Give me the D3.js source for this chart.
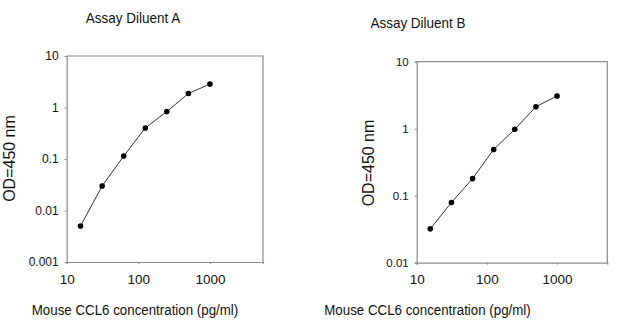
<!DOCTYPE html>
<html>
<head>
<meta charset="utf-8">
<script src="https://cdn.jsdelivr.net/npm/d3@7"></script>
<style>
  html, body { margin: 0; padding: 0; background: #fff; }
  svg { display: block; }
  text { font-family: "Liberation Sans", Arial, sans-serif; fill: #111; }
</style>
</head>
<body>
<svg id="chart" width="640" height="334"></svg>
<script>
// Standard curve concentrations (pg/ml)
const concentrations = [15.6, 31.25, 62.5, 125, 250, 500, 1000];
// OD at 450 nm for each diluent
const odDiluentA = [0.005, 0.030, 0.114, 0.40, 0.835, 1.87, 2.85];
const odDiluentB = [0.032, 0.079, 0.18, 0.49, 0.98, 2.13, 3.08];
// Axis tick labels
const xTicks = [10, 100, 1000];
const yTicksA = [0.001, 0.01, 0.1, 1, 10];
const yTicksB = [0.01, 0.1, 1, 10];
const titles = ["Assay Diluent A", "Assay Diluent B"];
const xLabel = "Mouse CCL6 concentration (pg/ml)";
const yLabel = "OD=450 nm";

const svg = d3.select("#chart");
const axisColor = "#8a8a8a";

function drawPanel(cfg) {
  const g = svg.append("g");
  const x = d3.scaleLog().domain([10, cfg.xMax]).range([cfg.left, cfg.right]);
  const y = d3.scaleLog().domain(cfg.yDomain).range([cfg.bottom, cfg.top]);

  // Frame: top and right borders
  g.append("path")
    .attr("d", `M${cfg.left},${cfg.top}H${cfg.right}V${cfg.bottom}`)
    .attr("fill", "none").attr("stroke", axisColor).attr("stroke-width", 1.2);

  const xAxis = g.append("g")
    .attr("transform", `translate(0,${cfg.bottom})`)
    .call(d3.axisBottom(x).tickValues(xTicks).tickFormat(String).tickSize(2).tickPadding(10));
  const yAxis = g.append("g")
    .attr("transform", `translate(${cfg.left},0)`)
    .call(d3.axisLeft(y).tickValues(cfg.yTicks).tickFormat(String).tickSize(2).tickPadding(6));

  [xAxis, yAxis].forEach(a => {
    a.select(".domain").attr("stroke", axisColor).attr("stroke-width", 1.2);
    a.selectAll(".tick line").attr("stroke", axisColor);
    a.selectAll(".tick text")
      .attr("font-family", "Liberation Sans, Arial, sans-serif")
      .attr("fill", "#111");
  });
  xAxis.selectAll(".tick text").attr("font-size", 13.5).attr("dy", "0.71em");
  yAxis.selectAll(".tick text").attr("font-size", cfg.yTickSize);

  const line = d3.line().x(d => x(d[0])).y(d => y(d[1]));
  const pts = concentrations.map((c, i) => [c, cfg.values[i]]);
  g.append("path").datum(pts).attr("d", line)
    .attr("fill", "none").attr("stroke", "#333").attr("stroke-width", 1);
  g.selectAll("circle.pt").data(pts).join("circle")
    .attr("class", "pt")
    .attr("cx", d => x(d[0])).attr("cy", d => y(d[1])).attr("r", 2.8)
    .attr("fill", "#000");

  g.append("text")
    .attr("transform", `translate(${cfg.titleX},${cfg.titleY}) scale(0.9,1)`)
    .attr("text-anchor", "middle").attr("font-size", 15).text(cfg.title);
  g.append("text")
    .attr("transform", `translate(${cfg.xLabelX},315) scale(0.86,1)`)
    .attr("text-anchor", "middle").attr("font-size", 15.5).text(xLabel);
  g.append("text")
    .attr("transform", `translate(${cfg.yLabelX},${cfg.yLabelY}) rotate(-90)`)
    .attr("text-anchor", "middle").attr("font-size", 16).text(yLabel);
}

drawPanel({
  left: 66.7, right: 263, top: 56, bottom: 262,
  xMax: 5500, yDomain: [0.001, 10], yTicks: yTicksA, yTickSize: 12,
  values: odDiluentA, title: titles[0], titleX: 133, titleY: 23,
  xLabelX: 135, yLabelX: 14.5, yLabelY: 158.5
});
drawPanel({
  left: 416.7, right: 607.3, top: 61.7, bottom: 262.7,
  xMax: 5200, yDomain: [0.01, 10], yTicks: yTicksB, yTickSize: 11.5,
  values: odDiluentB, title: titles[1], titleX: 418, titleY: 28,
  xLabelX: 427.5, yLabelX: 373.5, yLabelY: 163
});
</script>
</body>
</html>
